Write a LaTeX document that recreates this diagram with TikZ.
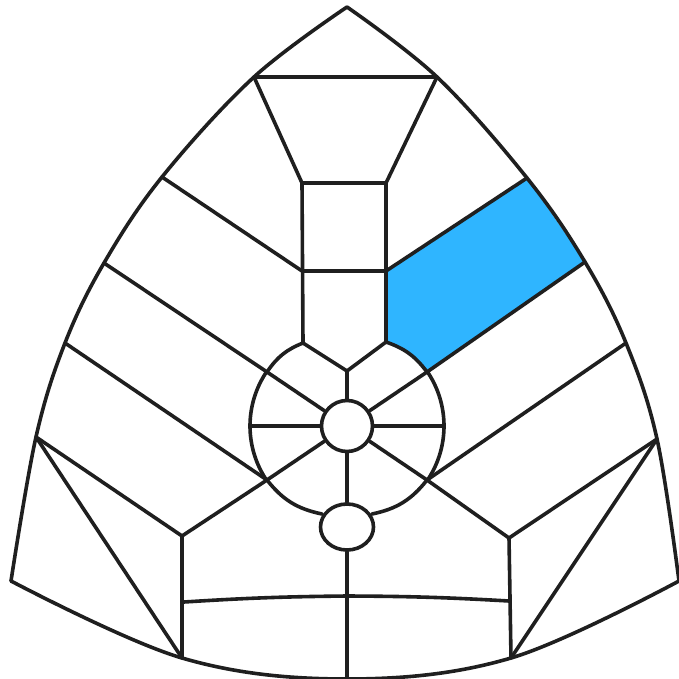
\documentclass[tikz,border=0pt]{standalone}
\usetikzlibrary{shapes.geometric}
\definecolor{paneblue}{HTML}{2FB5FF}

\begin{document}
\begin{tikzpicture}[
      x=1pt,y=-1pt,
      lead/.style={draw=black!88,line width=3.6pt,line join=round,line cap=round},
      hub/.style={lead,circle,fill=white,inner sep=0pt,minimum size=51pt},
      lowerhub/.style={lead,ellipse,fill=white,inner sep=0pt,minimum width=53pt,minimum height=46pt},
      glass/.style={fill=paneblue},
  ]
  \useasboundingbox (0,0) rectangle (679,679);

  %--- Points on the outline ---
  \coordinate (apex) at (347,7);
  \coordinate (tl) at (254,77);
  \coordinate (tr) at (437,77);
  \coordinate (l1) at (162,177);
  \coordinate (l2) at (104,263);
  \coordinate (l3) at (65,343);
  \coordinate (l4) at (36,437);
  \coordinate (r1) at (527,178);
  \coordinate (r2) at (585,262);
  \coordinate (r3) at (626,343);
  \coordinate (r4) at (657,439);
  \coordinate (cl) at (11,581);
  \coordinate (cr) at (679,581);
  \coordinate (bl) at (182,658);
  \coordinate (br) at (511,658);
  \coordinate (bm) at (347,679);

  %--- Points inside ---
  \coordinate (nl) at (302,183);
  \coordinate (nr) at (386,183);
  \coordinate (ml) at (302,271);
  \coordinate (mr) at (386,271);
  \coordinate (sl) at (303,343);
  \coordinate (sr) at (386,342);
  \coordinate (sm) at (347,371);
  \coordinate (xa) at (267,372);
  \coordinate (xb) at (427,372);
  \coordinate (xc) at (267,480);
  \coordinate (xd) at (427,480);
  \coordinate (wl) at (252,426);
  \coordinate (wr) at (442,426);
  \coordinate (el) at (322,514);
  \coordinate (er) at (372,514);
  \coordinate (fl) at (182,536);
  \coordinate (fr) at (509,538);
  \coordinate (gl) at (184,602);
  \coordinate (gm) at (347,596);
  \coordinate (gr) at (509,601);

  % Blue pane
  \fill[glass] (mr) -- (r1) -- (r2) -- (xb) to[bend right=17] (sr) -- cycle;

  % Outline
  \draw[lead] plot[smooth,tension=0.6] coordinates {(cl) (l4) (l3) (l2) (l1) (tl) (apex)};
  \draw[lead] plot[smooth,tension=0.6] coordinates {(apex) (tr) (r1) (r2) (r3) (r4) (cr)};
  \draw[lead] plot[smooth,tension=0.6] coordinates {(cl) (bl) (bm) (br) (cr)};

  % Neck
  \draw[lead] (tl) -- (tr) (tl) -- (nl) -- (nr) -- (tr);
  \draw[lead] (nl) -- (sl) (nr) -- (sr) (ml) -- (mr);
  \draw[lead] (sl) -- (sm) -- (sr);

  % Wheel
  \draw[lead] plot[domain=146:214,samples=24,smooth] ({347+97*cos(\x)},{426+97*sin(\x)});
  \draw[lead] plot[domain=-34:34,samples=24,smooth] ({347+97*cos(\x)},{426+97*sin(\x)});
  \draw[lead] (xa) to[bend left=17] (sl);
  \draw[lead] (xc) to[bend right=20] (el);
  \draw[lead] (xb) to[bend right=17] (sr);
  \draw[lead] (xd) to[bend left=20] (er);
  \node[hub] (hubA) at (347,426) {};
  \node[lowerhub] (hubB) at (347,527) {};
  \draw[lead] (hubA) -- (sm) (hubA) -- (wl) (hubA) -- (wr) (hubA) -- (hubB);
  \draw[lead] (hubA) -- (xa) -- (l2);
  \draw[lead] (hubA) -- (xb) -- (r2);
  \draw[lead] (hubA) -- (xc) -- (fl);
  \draw[lead] (hubA) -- (xd) -- (fr);
  \draw[lead] (l1) -- (ml) (r1) -- (mr);
  \draw[lead] (l3) -- (xc) (r3) -- (xd);

  % Lower panes
  \draw[lead] (hubB) -- (bm);
  \draw[lead] (fl) -- (bl) (fr) -- (br);
  \draw[lead] (l4) -- (fl) (r4) -- (fr);
  \draw[lead] (l4) -- (bl) (r4) -- (br);
  \draw[lead] (gl) to[bend left=1.5] (gm) to[bend left=1.5] (gr);
\end{tikzpicture}
\end{document}
